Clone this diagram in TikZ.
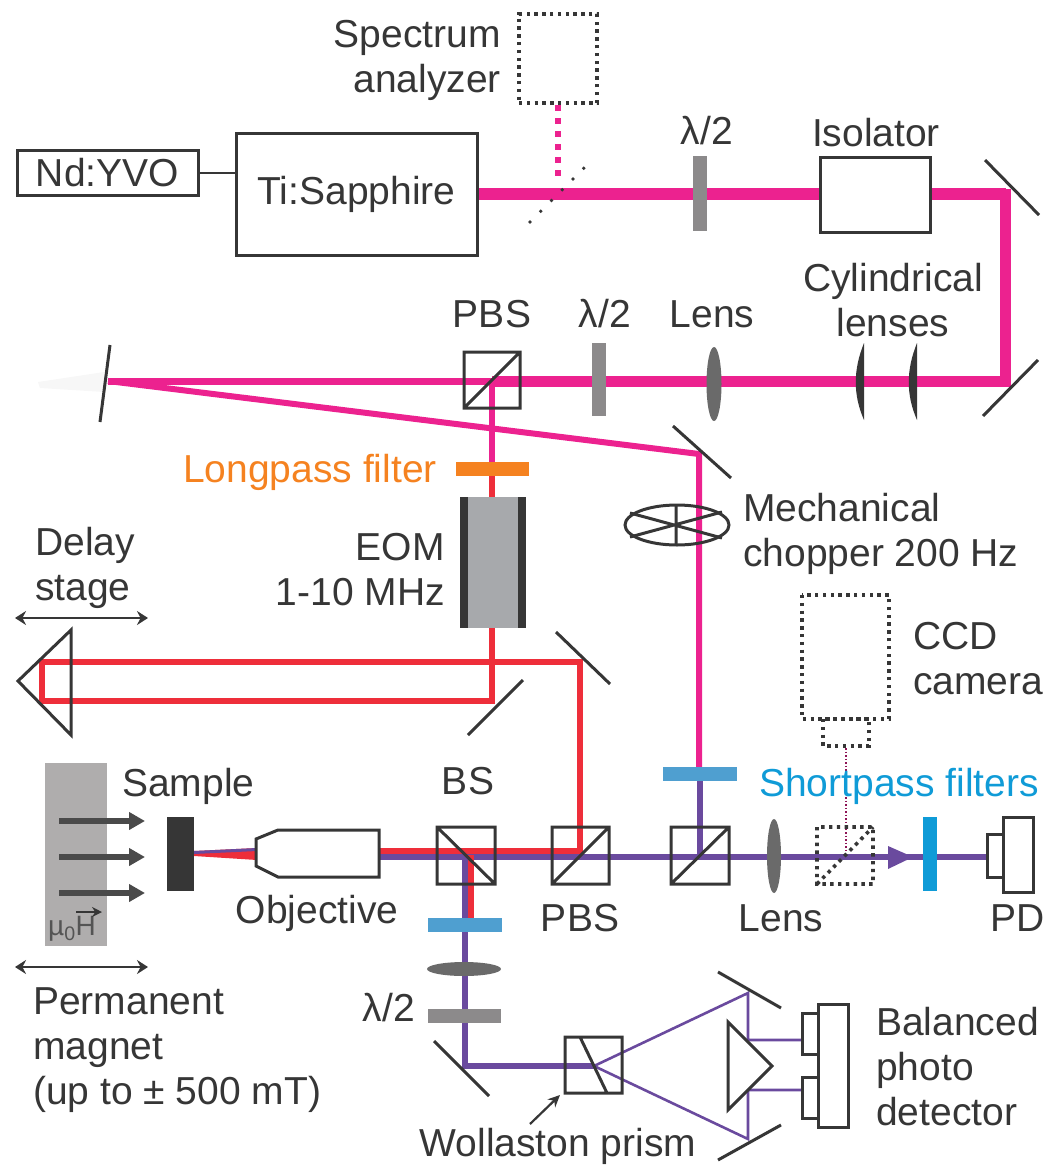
\documentclass[tikz,border=0pt]{standalone}
\usepackage{fontspec}
\setmainfont{Liberation Sans}
\usepackage{tikz}
\usetikzlibrary{arrows.meta}

\definecolor{pinkbeam}{HTML}{EC228F}
\definecolor{redbeam}{HTML}{EE2E3A}
\definecolor{violetbeam}{HTML}{6A4A9E}
\definecolor{inkdark}{HTML}{363636}
\definecolor{plategray}{HTML}{8C8A8B}
\definecolor{lensgray}{HTML}{6A6A6A}
\definecolor{eomgray}{HTML}{A7A9AC}
\definecolor{magnetgray}{HTML}{AFADAD}
\definecolor{filterblue}{HTML}{4F9FD0}
\definecolor{filtercyan}{HTML}{0F9BD7}
\definecolor{filterorange}{HTML}{F58220}

\tikzset{
    part/.style={draw=inkdark, line width=3},
    dots/.style={draw=inkdark, line width=3.6, dash pattern=on 3.4 off 4.4},
    label/.style={text=inkdark, inner sep=0, font=\fontsize{39}{45}\selectfont},
    doublearrow/.style={draw=inkdark, line width=2.6, {Stealth[length=11,width=14]}-{Stealth[length=11,width=14]}}
}

\begin{document}
\begin{tikzpicture}[x=1pt, y=-1pt]
    \useasboundingbox (0,0) rectangle (1050,1167);

    %zvazok z lasera
    \draw[pinkbeam, line width=12] (477,194) -- (1006,194);
    \draw[pinkbeam, line width=11, line join=miter] (1000,194) -- (1005,194) -- (1005,381) -- (492,381);
    \draw[pinkbeam, line width=7] (492,381) -- (108,381);
    \fill[gray!6] (38,382) -- (104,372) -- (104,392) -- (40,388) -- cycle; %tien
    \draw[pinkbeam, line width=6] (108,381) -- (699,454) -- (699,770);
    \draw[pinkbeam, line width=6] (492,381) -- (492,462);
    \draw[pinkbeam, line width=6, dash pattern=on 6 off 7] (558,105) -- (558,182);

    %oneskorovacia vetva
    \draw[redbeam, line width=6] (492,462) -- (492,701) -- (42,701) -- (42,662) -- (580,662) -- (580,855);

    %zvazok pri vzorke
    \fill[redbeam] (194,851) -- (257,848) -- (257,860) -- (194,856) -- cycle;
    \fill[violetbeam] (194,851) -- (257,848) -- (257,851) -- (194,854) -- cycle;
    \draw[redbeam, line width=7] (379,851) -- (580,851);
    \draw[violetbeam, line width=6] (379,857) -- (987,857);
    \draw[violetbeam, line width=6] (700,775) -- (700,857);
    \draw[redbeam, line width=6] (471,855) -- (471,920);
    \draw[violetbeam, line width=6] (465,857) -- (465,1066) -- (594,1066);
    \draw[violetbeam, line width=2.6] (594,1066) -- (748,993) -- (748,1040) -- (802,1040);
    \draw[violetbeam, line width=2.6] (594,1066) -- (748,1139) -- (748,1090) -- (802,1090);
    \draw[pinkbeam!60!black, line width=1.5, dotted] (846,748) -- (846,853);
    \fill[violetbeam] (888,846) -- (913,857) -- (888,869) -- cycle; %sipka

    %zdroje
    \node[part, minimum width=181, minimum height=45, label] (yvo) at (107.5,172.5) {Nd:YVO};
    \node[part, fill=white, minimum width=241, minimum height=122, label] (sapphire) at (356.5,194) {Ti:Sapphire};
    \draw[part, line width=2] (yvo) -- (sapphire.west |- yvo);
    \node[dots, minimum width=78, minimum height=89] (analyzer) at (558,58.5) {};
    \draw[inkdark, line width=3.6, line cap=round, dash pattern=on 0 off 15.2] (530,222) -- (587,165);
    \node[part, fill=white, minimum width=110, minimum height=75] (isolator) at (875,194.5) {};

    %platnicky
    \fill[plategray] (693,156) rectangle (707,231);
    \fill[plategray] (592,343) rectangle (606,416);
    \fill[plategray] (428,1009) rectangle (501,1023);
    \fill[filterorange] (456,462) rectangle (529,476);
    \fill[filterblue] (663,767) rectangle (737,781);
    \fill[filterblue] (428,918) rectangle (502,932);
    \fill[filtercyan] (923,817) rectangle (937,891);

    %sosovky
    \fill[lensgray] (714,384) ellipse (7.5 and 37);
    \fill[lensgray] (774,856) ellipse (7 and 37);
    \fill[lensgray] (464,969) ellipse (37 and 7);
    \fill[inkdark] (864,343) .. controls (853,370) and (853,395) .. (864,420) -- cycle;
    \fill[inkdark] (917,343) .. controls (906,370) and (906,395) .. (917,420) -- cycle;

    %zrkadla
    \foreach \xa/\ya/\xb/\yb in {985/160/1039/215, 983/416/1038/360, 110/345/100/422, 673/426/731/478, 556/632/610/684, 468/735/523/680, 434/1041/489/1096, 718/972/781/1008, 718/1160/781/1125}
        \draw[part] (\xa,\ya) -- (\xb,\yb);

    %kocky
    \draw[part] (464,352) rectangle (520,408) (464,408) -- (520,352);
    \draw[part] (437,827) rectangle (495,884) (437,827) -- (495,884);
    \draw[part] (552,827) rectangle (609,884) (552,884) -- (609,827);
    \draw[part] (671,827) rectangle (729,884) (671,884) -- (729,827);
    \draw[dots] (817,827) rectangle (873,884) (817,884) -- (873,827);
    \draw[part] (565,1037) rectangle (622,1093) (580,1037) -- (607,1093);

    %chopper
    \draw[part] (677,525) ellipse (52 and 20);
    \draw[part] (676,505) -- (676,545) (630,513) -- (722,538) (630,537) -- (722,512);

    %EOM
    \fill[eomgray] (460,497) rectangle (526,628);
    \fill[inkdark] (460,497) rectangle (468,628);
    \fill[inkdark] (518,497) rectangle (526,628);

    %hranoly
    \draw[part, line join=miter] (71,630) -- (18,681) -- (71,735) -- cycle;
    \draw[part, fill=white] (728,1022) -- (772,1066) -- (728,1110) -- cycle;

    %vzorka, objektiv, magnet
    \fill[magnetgray] (45,763) rectangle (107,946);
    \foreach \ya in {821,857,893}
        \draw[inkdark!90, line width=6, -{Triangle[length=16,width=17]}] (59,\ya) -- (145,\ya);
    \fill[inkdark] (167,817) rectangle (194,891);
    \draw[part, fill=white] (256,839) -- (278,830) -- (379,830) -- (379,877) -- (278,877) -- (256,866) -- cycle;

    %detektory
    \draw[part, fill=white] (987,834) rectangle (1003,877);
    \draw[part, fill=white] (1003,817) rectangle (1033,892);
    \draw[part, fill=white] (802,1013) rectangle (818,1054);
    \draw[part, fill=white] (802,1077) rectangle (818,1118);
    \draw[part, fill=white] (818,1004) rectangle (848,1127);

    %kamera
    \draw[dots] (802,595) rectangle (889,719);
    \draw[dots] (823,719) rectangle (869,746);

    %sipky
    \draw[doublearrow] (15,618) -- (148,618);
    \draw[doublearrow] (15,967) -- (148,967);
    \draw[inkdark, line width=2.2, -{Stealth[length=12,width=11]}] (530,1124) -- (560,1095);

    %popisky
    \node[label, anchor=east, align=right] (spectrum) at (501,60) {Spectrum\\analyzer};
    \node[label] (halfa) at (707,131) {λ/2};
    \node[label] (isolabel) at (876,133) {Isolator};
    \node[label, align=center] (cyl) at (893,300) {Cylindrical\\lenses};
    \node[label] (pbsa) at (492,314) {PBS};
    \node[label] (halfb) at (605,314) {λ/2};
    \node[label] (lensa) at (712,314) {Lens};
    \node[label, anchor=east, text=filterorange] (longpass) at (437,472) {Longpass filter};
    \node[label, anchor=west, align=left] (chopper) at (743,534) {Mechanical\\chopper 200 Hz};
    \node[label, anchor=east, align=right] (eom) at (445,570) {EOM\\1-10 MHz};
    \node[label, anchor=west, align=left] (delay) at (35,568) {Delay\\stage};
    \node[label, anchor=west, align=left] (ccd) at (913,659) {CCD\\camera};
    \node[label, anchor=west, text=filtercyan] (shortpass) at (759,786) {Shortpass filters};
    \node[label, anchor=west] (sample) at (122,786) {Sample};
    \node[label] (bs) at (468,781) {BS};
    \node[label] (objective) at (317,913) {Objective};
    \node[label] (pbsb) at (580,918) {PBS};
    \node[label] (lensb) at (781,918) {Lens};
    \node[label] (pd) at (1018,918) {PD};
    \node[label, anchor=west, align=left] (magnet) at (33,1050) {Permanent\\magnet\\(up to ± 500 mT)};
    \node[label] (halfc) at (389,1008) {λ/2};
    \node[label] (wollaston) at (558,1146) {Wollaston prism};
    \node[label, anchor=west, align=left] (balanced) at (876,1067) {Balanced\\photo\\detector};
    \node[text=inkdark!85, inner sep=0, font=\fontsize{28}{30}\selectfont] (field) at (72,929) {µ\textsubscript{0}H};
    \draw[inkdark, line width=2, -{Stealth[length=10,width=10]}] (76,912) -- (102,912);
\end{tikzpicture}
\end{document}
